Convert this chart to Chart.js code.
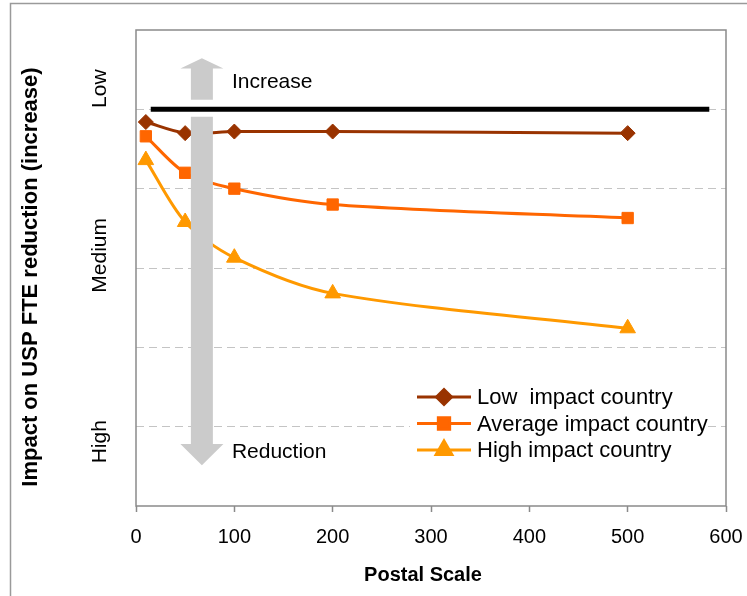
<!DOCTYPE html>
<html>
<head>
<meta charset="utf-8">
<script src="https://cdn.jsdelivr.net/npm/chart.js@4.4.1/dist/chart.umd.min.js"></script>
<style>
  html, body { margin: 0; padding: 0; background: #fff; }
  #wrap { width: 747px; height: 596px; }
</style>
</head>
<body>
<div id="wrap"><canvas id="chart" width="747" height="596"></canvas></div>
<script>
// Postal scale (x) and impact level (0 = bottom of axis, 6 = top)
const postalScale = [10, 50, 100, 200, 500];
const lowImpact = [4.84, 4.70, 4.72, 4.72, 4.70];
const averageImpact = [4.66, 4.20, 4.00, 3.80, 3.63];
const highImpact = [4.36, 3.58, 3.13, 2.68, 2.24];
const seriesNames = ['Low  impact country', 'Average impact country', 'High impact country'];

// Reference level drawn as a thick black rule
const referenceX = [15, 583];
const referenceY = [5, 5];

// Qualitative labels of the vertical axis
const levelLabels = ['High', 'Medium', 'Low'];
const levelValues = [0.81, 3.16, 5.26];

const yTitle = 'Impact on USP FTE reduction (increase)';
const xTitle = 'Postal Scale';
const arrowTexts = ['Increase', 'Reduction'];

const FONT = '"Liberation Sans", Arial, Helvetica, sans-serif';
const colors = ['#993300', '#FF6600', '#FF9900'];
const styles = ['rectRot', 'rect', 'triangle'];
const radii = [7.5, 8, 9];

const toPoints = (xs, ys) => xs.map((x, i) => ({ x: x, y: ys[i] }));

const seriesData = [lowImpact, averageImpact, highImpact];
const datasets = seriesData.map((vals, i) => ({
  label: seriesNames[i],
  data: toPoints(postalScale, vals),
  borderColor: colors[i],
  backgroundColor: colors[i],
  pointStyle: styles[i],
  pointRadius: radii[i],
  pointBorderWidth: 1,
  borderWidth: 3,
  tension: 0.3,
  fill: false
}));
datasets.push({
  label: 'reference',
  data: toPoints(referenceX, referenceY),
  borderColor: '#000',
  borderWidth: 5,
  pointRadius: 0,
  tension: 0,
  fill: false
});

// Annotation layout: gray up/down arrows and their captions
const arrowSpec = {
  x: 67, shaftHalf: 11, headHalf: 21.5,
  up: { from: 5.12, tip: 5.645, headBase: 5.515 },
  down: { from: 4.905, tip: 0.515, headBase: 0.78 },
  textX: 97.5, upTextY: 5.345, downTextY: 0.68
};

const decor = {
  id: 'decor',
  beforeDraw(chart) {
    const c = chart.ctx;
    c.save();
    c.fillStyle = '#fff';
    c.fillRect(0, 0, chart.width, chart.height);
    c.strokeStyle = '#9a9a9a';
    c.lineWidth = 1.5;
    c.strokeRect(10.5, 3.5, chart.width + 20, chart.height + 20);
    c.restore();
  },
  beforeDatasetsDraw(chart) {
    const c = chart.ctx, a = chart.chartArea;
    c.save();
    c.strokeStyle = '#8a8a8a';
    c.lineWidth = 1.5;
    c.strokeRect(a.left, a.top, a.right - a.left, a.bottom - a.top);
    c.restore();
  },
  afterDatasetsDraw(chart) {
    const c = chart.ctx, a = chart.chartArea;
    const xs = chart.scales.x, ys = chart.scales.y;
    c.save();

    // arrows
    const cx = xs.getPixelForValue(arrowSpec.x);
    c.fillStyle = '#cbcbcb';
    [arrowSpec.up, arrowSpec.down].forEach(ar => {
      const yFrom = ys.getPixelForValue(ar.from);
      const yTip = ys.getPixelForValue(ar.tip);
      const yBase = ys.getPixelForValue(ar.headBase);
      c.beginPath();
      c.moveTo(cx - arrowSpec.shaftHalf, yFrom);
      c.lineTo(cx - arrowSpec.shaftHalf, yBase);
      c.lineTo(cx - arrowSpec.headHalf, yBase);
      c.lineTo(cx, yTip);
      c.lineTo(cx + arrowSpec.headHalf, yBase);
      c.lineTo(cx + arrowSpec.shaftHalf, yBase);
      c.lineTo(cx + arrowSpec.shaftHalf, yFrom);
      c.closePath();
      c.fill();
    });

    c.fillStyle = '#000';
    c.font = '21px ' + FONT;
    c.textAlign = 'left';
    c.textBaseline = 'middle';
    const tx = xs.getPixelForValue(arrowSpec.textX);
    c.fillText(arrowTexts[0], tx, ys.getPixelForValue(arrowSpec.upTextY));
    c.fillText(arrowTexts[1], tx, ys.getPixelForValue(arrowSpec.downTextY));

    // legend box
    const lx = 410, ly = a.top + 352;
    c.fillStyle = '#fff';
    c.fillRect(lx, ly, 298, 83);
    const rowY = [ly + 15, ly + 41.5, ly + 68];
    for (let i = 0; i < 3; i++) {
      const ds = chart.data.datasets[i];
      const y = rowY[i];
      c.strokeStyle = ds.borderColor;
      c.lineWidth = 3;
      c.beginPath();
      c.moveTo(lx + 7, y);
      c.lineTo(lx + 61, y);
      c.stroke();
      c.fillStyle = ds.backgroundColor;
      Chart.helpers.drawPoint(c, { pointStyle: ds.pointStyle, radius: ds.pointRadius, rotation: 0, borderWidth: 1 }, lx + 34, y);
      c.fillStyle = '#000';
      c.font = '22px ' + FONT;
      c.textBaseline = 'middle';
      c.fillText(ds.label, lx + 67, y + 1);
    }

    // rotated level labels
    c.fillStyle = '#000';
    c.font = '21px ' + FONT;
    c.textAlign = 'center';
    c.textBaseline = 'alphabetic';
    levelLabels.forEach((t, i) => {
      c.save();
      c.translate(106, ys.getPixelForValue(levelValues[i]));
      c.rotate(-Math.PI / 2);
      c.fillText(t, 0, 0);
      c.restore();
    });

    // axis titles
    c.font = 'bold 22px ' + FONT;
    c.save();
    c.translate(37, 277);
    c.rotate(-Math.PI / 2);
    c.fillText(yTitle, 0, 0);
    c.restore();

    c.font = 'bold 20px ' + FONT;
    c.textBaseline = 'middle';
    c.fillText(xTitle, 423, 575);

    c.restore();
  }
};

new Chart(document.getElementById('chart'), {
  type: 'line',
  data: { datasets: datasets },
  plugins: [decor],
  options: {
    responsive: false,
    animation: false,
    devicePixelRatio: 1,
    layout: { padding: { top: 30, right: 21, left: 0, bottom: 0 } },
    plugins: { legend: { display: false }, tooltip: { enabled: false } },
    scales: {
      x: {
        type: 'linear',
        min: 0, max: 600,
        afterFit: s => { s.height = 90; s.paddingLeft = 0; s.paddingRight = 0; },
        ticks: { stepSize: 100, color: '#000', font: { family: FONT, size: 20 }, padding: 13, maxRotation: 0 },
        grid: { drawOnChartArea: false, drawTicks: true, tickLength: 6, tickColor: '#8a8a8a', tickWidth: 1.5 },
        border: { display: false }
      },
      y: {
        type: 'linear',
        min: 0, max: 6,
        afterFit: s => { s.width = 136; },
        ticks: { display: false, stepSize: 1 },
        grid: {
          drawTicks: false,
          lineWidth: 1,
          color: ctx => (ctx.tick && (ctx.tick.value === 0 || ctx.tick.value === 6)) ? 'rgba(0,0,0,0)' : '#c4c4c4'
        },
        border: { display: false, dash: [8, 5] }
      }
    }
  }
});
</script>
</body>
</html>
